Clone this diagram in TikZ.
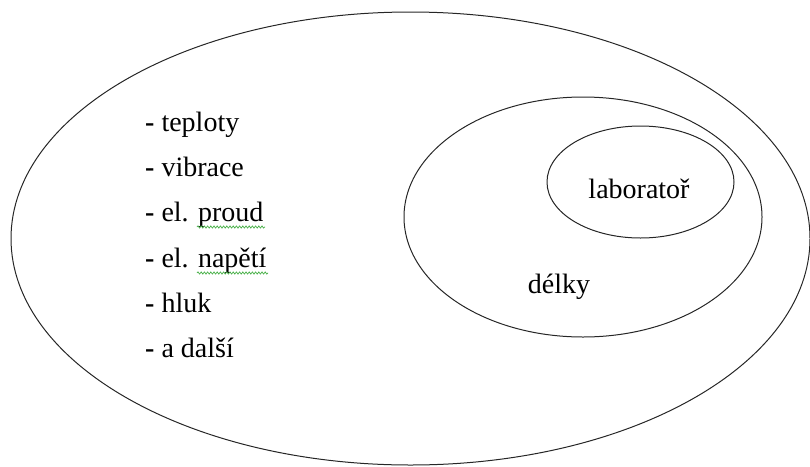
\documentclass[tikz,border=0pt]{standalone}
\usepackage{fontspec}
\setmainfont{Liberation Serif}
\usetikzlibrary{decorations.pathmorphing}
\definecolor{squig}{RGB}{70,175,70}
\begin{document}
\begin{tikzpicture}[x=1pt,y=-1pt,
  ring/.style={draw=black!85,line width=1pt},
  item/.style={anchor=base west,inner sep=0pt,font=\fontsize{28}{34}\selectfont},
  label/.style={anchor=base,inner sep=0pt,font=\fontsize{28}{34}\selectfont},
  spell/.style={draw=squig,line width=0.7pt,decorate,
    decoration={snake,amplitude=1.1pt,segment length=3.2pt}}]
  \useasboundingbox (0,0) rectangle (810,466);
  % nested sets
  \draw[ring] (410.5,238.5) ellipse [x radius=399.5, y radius=226.5];
  \draw[ring] (583,217) ellipse [x radius=179, y radius=120];
  \draw[ring] (640.5,182) ellipse [x radius=93.5, y radius=56];
  % labels inside the inner sets
  \node[label] (lab) at (639,198) {laboratoř};
  \node[label] (del) at (559,293) {délky};
  % list of quantities
  \node[item] (l1) at (145,131) {\textbf{-} teploty};
  \node[item] (l2) at (145,176) {\textbf{-} vibrace};
  \node[item] (l3) at (145,221) {\textbf{-} el. proud};
  \node[item] (l4) at (145,267) {\textbf{-} el. napětí};
  \node[item] (l5) at (145,312) {\textbf{-} hluk};
  \node[item] (l6) at (145,357) {\textbf{-} a další};
  % spelling marks under two words
  \draw[spell] (197,227) -- (265,227);
  \draw[spell] (197,273) -- (268,273);
\end{tikzpicture}
\end{document}
